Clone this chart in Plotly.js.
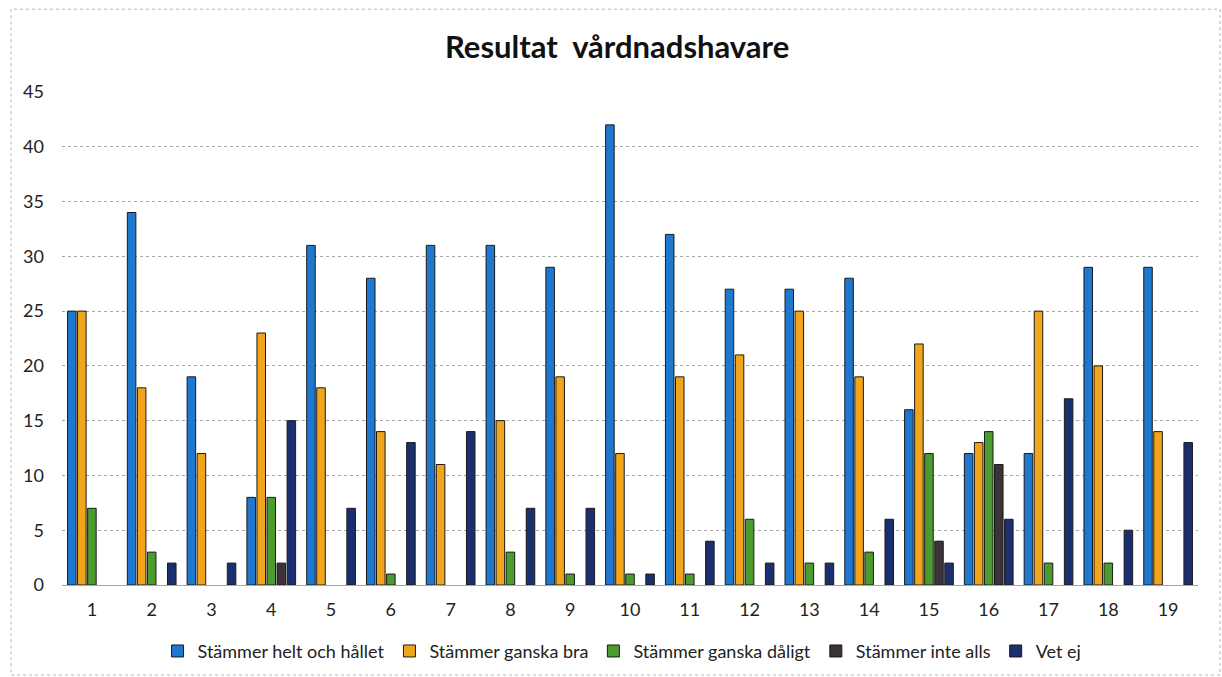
<!DOCTYPE html>
<html>
<head>
<meta charset="utf-8">
<script src="https://cdn.plot.ly/plotly-3.0.1.min.js"></script>
<style>
html,body{margin:0;padding:0;background:#fff;}
#chart{width:1222px;height:677px;}
</style>
</head>
<body>
<div id="chart"></div>
<script>
const categories = ["1","2","3","4","5","6","7","8","9","10","11","12","13","14","15","16","17","18","19"];
const seriesNames = ["Stämmer helt och hållet","Stämmer ganska bra","Stämmer ganska dåligt","Stämmer inte alls","Vet ej"];
const heltOchHallet = [25,34,19,8,31,28,31,31,29,42,32,27,27,28,16,12,12,29,29];
const ganskaBra     = [25,18,12,23,18,14,11,15,19,12,19,21,25,19,22,13,25,20,14];
const ganskaDaligt  = [7,3,0,8,0,1,0,3,1,1,1,6,2,3,12,14,2,2,0];
const inteAlls      = [0,0,0,2,0,0,0,0,0,0,0,0,0,0,4,11,0,0,0];
const vetEj         = [0,2,2,15,7,13,14,7,7,1,4,2,2,6,2,6,17,5,13];
const yTicks = [0,5,10,15,20,25,30,35,40,45];

const seriesValues = [heltOchHallet, ganskaBra, ganskaDaligt, inteAlls, vetEj];
const colors = ["#1f78cf","#f0a51c","#4b9b2e","#3b3339","#1b2f6e"];
const FONT = "Lato, 'Open Sans', 'Liberation Sans', sans-serif";

const traces = seriesValues.map((vals, i) => ({
  type: "bar",
  name: seriesNames[i],
  x: categories,
  // zero counts draw no bar (no outline sliver on the baseline)
  y: vals.map(v => (v === 0 ? null : v)),
  marker: { color: colors[i], line: { color: "#1a1a1a", width: 1 } },
  hoverinfo: "x+y+name"
}));

const layout = {
  width: 1222, height: 677,
  paper_bgcolor: "#ffffff", plot_bgcolor: "#ffffff",
  margin: { l: 62, r: 24, t: 92, b: 92 },
  barmode: "group",
  bargap: 0.16,
  bargroupgap: 0.15,
  font: { family: FONT, color: "#222", size: 16 },
  title: {
    text: "<b>Resultat  vårdnadshavare</b>",
    font: { family: FONT, size: 31, color: "#111" },
    x: 0.505, xanchor: "center", y: 0.93, yanchor: "middle"
  },
  xaxis: {
    type: "category",
    tickvals: categories,
    ticktext: categories,
    showgrid: false,
    showline: false,
    ticks: "",
    tickfont: { family: FONT, size: 18, color: "#222" },
    ticklabelstandoff: 12,
    automargin: false
  },
  yaxis: {
    range: [0, 45],
    tickvals: yTicks,
    ticktext: yTicks.map(String),
    showgrid: true,
    gridcolor: "#a8a8a8",
    griddash: "dot",
    gridwidth: 1,
    zeroline: true,
    zerolinecolor: "#a8a8a8",
    zerolinewidth: 1,
    showline: false,
    ticks: "",
    ticklabelstandoff: 17,
    tickfont: { family: FONT, size: 18, color: "#222" },
    automargin: false
  },
  legend: {
    orientation: "h",
    x: 0.493, xanchor: "center",
    yref: "container",
    y: 0.038, yanchor: "middle",
    font: { family: FONT, size: 18, color: "#222" },
    itemwidth: 30,
    traceorder: "normal"
  },
  shapes: [{
    type: "rect", xref: "paper", yref: "paper",
    x0: -0.0449, x1: 1.0194, y0: -0.1826, y1: 1.168,
    line: { color: "#b5b5b5", width: 1, dash: "dot" },
    fillcolor: "rgba(0,0,0,0)", layer: "below"
  }]
};

Plotly.newPlot("chart", traces, layout, { displayModeBar: false, responsive: false });
</script>
</body>
</html>
